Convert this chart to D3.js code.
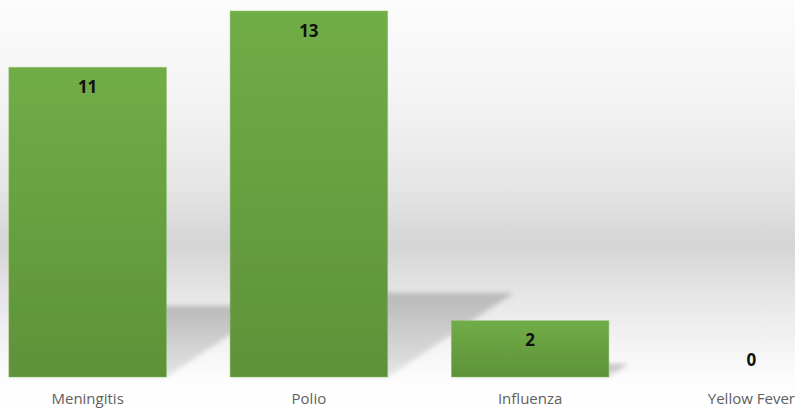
<!DOCTYPE html>
<html>
<head>
<meta charset="utf-8">
<script src="https://cdn.jsdelivr.net/npm/d3@7"></script>
<style>
  html, body { margin: 0; padding: 0; background: #fff; }
  svg { display: block; }
</style>
</head>
<body>
<svg id="chart"></svg>
<script>
var width = 795,
    height = 409;

// data
var diseases = ["Meningitis", "Polio", "Influenza", "Yellow Fever"];
var cases = [11, 13, 2, 0];

var svg = d3.select("#chart")
    .attr("width", width)
    .attr("height", height);

var defs = svg.append("defs");

// grey band background
var bg = defs.append("linearGradient")
    .attr("id", "bgGrad")
    .attr("x1", 0).attr("y1", 0).attr("x2", 0).attr("y2", 1);
[[0, "#fcfcfc"], [0.25, "#f3f3f3"], [0.45, "#e6e6e6"], [0.6, "#d5d5d5"],
 [0.72, "#e6e6e6"], [0.85, "#f4f4f4"], [0.93, "#fdfdfd"], [1, "#ffffff"]]
  .forEach(function(s) {
    bg.append("stop").attr("offset", s[0]).attr("stop-color", s[1]);
  });

var barGrad = defs.append("linearGradient")
    .attr("id", "barGrad")
    .attr("x1", 0).attr("y1", 0).attr("x2", 0).attr("y2", 1);
barGrad.append("stop").attr("offset", 0).attr("stop-color", "#71ad47");
barGrad.append("stop").attr("offset", 1).attr("stop-color", "#5e9239");

var shGrad = defs.append("linearGradient")
    .attr("id", "shGrad")
    .attr("x1", 0).attr("y1", 0).attr("x2", 0).attr("y2", 1);
shGrad.append("stop").attr("offset", 0).attr("stop-color", "#b4b4b4").attr("stop-opacity", 0.9);
shGrad.append("stop").attr("offset", 1).attr("stop-color", "#c4c4c4").attr("stop-opacity", 0.4);

defs.append("filter")
    .attr("id", "blur")
    .attr("x", "-20%").attr("y", "-20%").attr("width", "140%").attr("height", "140%")
  .append("feGaussianBlur")
    .attr("stdDeviation", 2.5);

svg.append("rect")
    .attr("width", width)
    .attr("height", height)
    .attr("fill", "url(#bgGrad)");

var x = d3.scaleBand()
    .domain(diseases)
    .range([-23, 862])
    .paddingInner(0.288)
    .paddingOuter(0.144);

var y = d3.scaleLinear()
    .domain([0, 13])
    .range([377, 11]);

var data = diseases.map(function(d, i) { return { name: d, value: cases[i] }; });

// perspective shadows behind the bars
svg.append("g")
  .selectAll("path")
  .data(data.filter(function(d) { return d.value > 0; }))
  .enter().append("path")
    .attr("fill", "url(#shGrad)")
    .attr("filter", "url(#blur)")
    .attr("d", function(d) {
      var x0 = x(d.name), x1 = x0 + x.bandwidth();
      var h = y(0) - y(d.value);
      var sh = h * 0.23, dx = sh * 1.5;
      return "M" + x0 + "," + y(0) +
             "L" + (x0 + dx) + "," + (y(0) - sh) +
             "L" + (x1 + dx) + "," + (y(0) - sh) +
             "L" + x1 + "," + y(0) + "Z";
    });

svg.append("g")
  .selectAll("rect")
  .data(data)
  .enter().append("rect")
    .attr("x", function(d) { return x(d.name); })
    .attr("y", function(d) { return y(d.value); })
    .attr("width", x.bandwidth())
    .attr("height", function(d) { return y(0) - y(d.value); })
    .attr("fill", "url(#barGrad)")
    .attr("stroke", "#8cc063")
    .attr("stroke-opacity", 0.6)
    .attr("stroke-width", 0.8);

// value labels
svg.append("g")
  .selectAll("text")
  .data(data)
  .enter().append("text")
    .attr("x", function(d) { return x(d.name) + x.bandwidth() / 2; })
    .attr("y", function(d) { return d.value > 0 ? y(d.value) + 25.5 : y(0) - 11; })
    .attr("text-anchor", "middle")
    .style("font-family", "'Open Sans', 'Liberation Sans', sans-serif")
    .style("font-weight", "bold")
    .style("font-size", "17px")
    .style("fill", "#111")
    .text(function(d) { return d.value; });

// category axis
var xAxis = svg.append("g")
    .attr("transform", "translate(0," + y(0) + ")")
    .call(d3.axisBottom(x).tickSize(0).tickPadding(16));
xAxis.select(".domain").remove();
xAxis.selectAll("text")
    .style("font-family", "'Open Sans', 'Liberation Sans', sans-serif")
    .style("font-size", "15px")
    .style("fill", "#606060");
</script>
</body>
</html>
